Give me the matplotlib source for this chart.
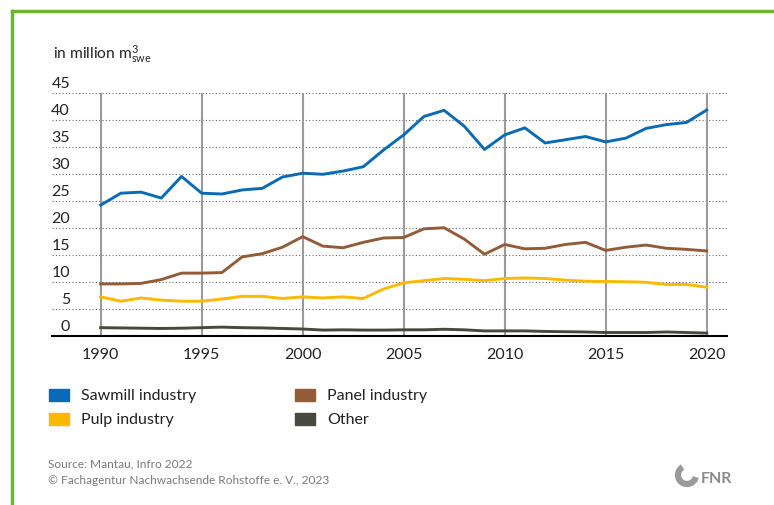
import numpy as np
import matplotlib
matplotlib.use("Agg")
import matplotlib.pyplot as plt
from matplotlib.patches import Rectangle, Arc
from matplotlib.lines import Line2D
import matplotlib.transforms as mtransforms

plt.rcParams['font.family'] = ['Lato', 'DejaVu Sans']
plt.rcParams['mathtext.fontset'] = 'custom'
plt.rcParams['mathtext.rm'] = 'Lato'
plt.rcParams['mathtext.it'] = 'Lato'

# Holzverwendung nach Sektoren, in Mio. m³ (swe)
years = list(range(1990, 2021))
sawmill = [24.3, 26.5, 26.7, 25.6, 29.6, 26.5, 26.35, 27.1, 27.4, 29.5,
           30.2, 30.0, 30.6, 31.4, 34.5, 37.3, 40.7, 41.85, 38.9, 34.6,
           37.3, 38.6, 35.8, 36.4, 37.0, 36.0, 36.7, 38.5, 39.2, 39.6, 41.9]
panel = [9.7, 9.7, 9.8, 10.5, 11.7, 11.7, 11.8, 14.7, 15.3, 16.5,
         18.45, 16.7, 16.4, 17.4, 18.2, 18.3, 19.9, 20.1, 18.0, 15.2,
         17.0, 16.2, 16.3, 17.0, 17.4, 15.9, 16.5, 16.9, 16.3, 16.1, 15.8]
pulp = [7.3, 6.5, 7.1, 6.7, 6.5, 6.5, 6.9, 7.4, 7.4, 7.0,
        7.3, 7.1, 7.3, 7.0, 8.75, 9.9, 10.3, 10.7, 10.55, 10.3,
        10.7, 10.8, 10.7, 10.4, 10.2, 10.15, 10.1, 10.0, 9.6, 9.6, 9.1]
other = [1.6, 1.55, 1.5, 1.45, 1.5, 1.6, 1.7, 1.6, 1.55, 1.45,
         1.35, 1.15, 1.2, 1.15, 1.15, 1.2, 1.2, 1.3, 1.2, 1.0,
         1.0, 1.0, 0.9, 0.85, 0.8, 0.7, 0.7, 0.7, 0.8, 0.7, 0.6]

series = [("Sawmill industry", sawmill, "#0a6ab3"),
          ("Panel industry", panel, "#935c38"),
          ("Pulp industry", pulp, "#fbba00"),
          ("Other", other, "#48483f")]
ytick_vals = [0, 5, 10, 15, 20, 25, 30, 35, 40, 45]
xtick_vals = [1990, 1995, 2000, 2005, 2010, 2015, 2020]

W, H = 774, 506
fig = plt.figure(figsize=(W / 100, H / 100), dpi=100)

# gruener Rahmen oben und links
fig.add_artist(Line2D([12 / W, 12 / W], [0, 1 - 12 / H], color="#6cb52f", lw=2.5,
                      transform=fig.transFigure))
fig.add_artist(Line2D([12 / W, 1], [1 - 12 / H, 1 - 12 / H], color="#6cb52f", lw=2.5,
                      transform=fig.transFigure))

ax = fig.add_axes([51.7 / W, 1 - 337.3 / H, 675.3 / W, 243 / H])
ax.set_xlim(1987.574, 2021.005)
ax.set_ylim(0, 45)
for s in ["top", "right", "left"]:
    ax.spines[s].set_visible(False)
ax.spines["bottom"].set_color("black")
ax.spines["bottom"].set_linewidth(1.5)
ax.spines["bottom"].set_zorder(5)

for v in ytick_vals[1:]:
    ax.axhline(v, color="#666666", lw=0.8, ls=(0, (1, 2)), zorder=1)
for yr in xtick_vals:
    ax.axvline(yr, color="#9a9a9a", lw=1.5, zorder=1)

for name, vals, col in series:
    ax.plot(years, vals, color=col, lw=2.1, zorder=3)

ax.set_yticks([])
ax.set_xticks(xtick_vals)
ax.set_xticklabels([str(x) for x in xtick_vals], fontsize=11.5, color="#222222")
ax.tick_params(axis="x", length=0, pad=8)

# y-Beschriftung ueber den Gitterlinien
trans = mtransforms.blended_transform_factory(fig.transFigure, ax.transData)
shift = mtransforms.ScaledTranslation(0, 10 / 100, fig.dpi_scale_trans)
for v in ytick_vals:
    ax.text(70 / W, v, str(v), transform=trans + shift,
            ha="right", va="center", fontsize=11.5, color="#222222", clip_on=False)

fig.text(53 / W, 1 - 54 / H, r"in million m$^{3}_{\mathrm{swe}}$", ha="left", va="center",
         fontsize=11.2, color="#222222")

# Legende
leg_pos = [(49, 395.7, 80.7), (295, 395.7, 327), (49, 420, 80.7), (295, 420, 327)]
for (px, py, tx), (name, _, col) in zip(leg_pos, series):
    fig.add_artist(Rectangle((px / W, 1 - (py + 6) / H), 20 / W, 12 / H, color=col,
                             transform=fig.transFigure))
    fig.text(tx / W, 1 - py / H, name, ha="left", va="center", fontsize=11.5, color="#222222")

fig.text(48 / W, 1 - 464 / H, "Source: Mantau, Infro 2022", ha="left", va="center",
         fontsize=8.6, color="#7a7a7a")
fig.text(48 / W, 1 - 481 / H, "\u00a9 Fachagentur Nachwachsende Rohstoffe e. V., 2023",
         ha="left", va="center", fontsize=8.6, color="#7a7a7a")

# FNR-Logo
fig.add_artist(Arc((687 / W, 1 - 476 / H), 18 / W, 18 / H, theta1=110, theta2=340,
                   color="#9a9a9a", lw=4.5, transform=fig.transFigure))
fig.text(701 / W, 1 - 479 / H, "FNR", ha="left", va="center", fontsize=11.5,
         fontweight="bold", color="#8c8c8c")

fig.savefig("out.png", dpi=100)
